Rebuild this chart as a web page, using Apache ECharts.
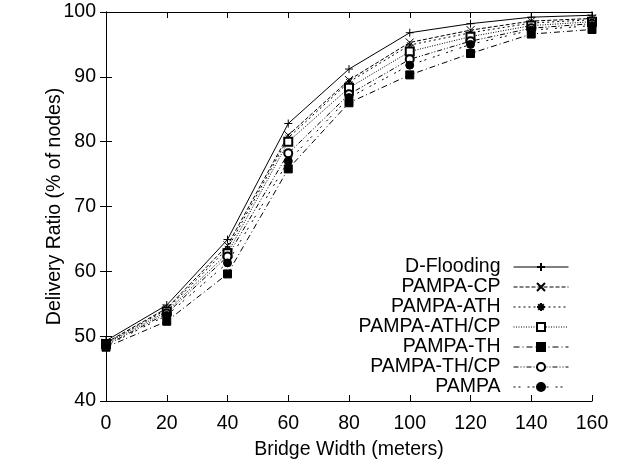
<!DOCTYPE html>
<html>
<head>
<meta charset="utf-8">
<script src="https://cdn.jsdelivr.net/npm/echarts@6/dist/echarts.min.js"></script>
<style>html,body{margin:0;padding:0;background:#fff;}#c{width:624px;height:465px;}</style>
</head>
<body>
<div id="c"></div>
<script>
const bridgeWidths = [0, 20, 40, 60, 80, 100, 120, 140, 160];
const seriesNames = ['D-Flooding', 'PAMPA-CP', 'PAMPA-ATH', 'PAMPA-ATH/CP', 'PAMPA-TH', 'PAMPA-TH/CP', 'PAMPA'];
const dFlooding  = [49.3, 54.8, 64.9, 82.8, 91.2, 96.8, 98.2, 99.2, 99.5];
const pampaCP    = [49.0, 54.3, 64.0, 81.0, 89.5, 95.3, 97.2, 98.6, 99.0];
const pampaATH   = [48.9, 54.1, 63.5, 80.6, 89.2, 94.9, 96.8, 98.3, 98.8];
const pampaATHCP = [48.8, 53.8, 62.8, 80.0, 88.3, 93.9, 96.2, 97.9, 98.5];
const pampaTH    = [48.3, 52.3, 59.6, 75.8, 86.0, 90.3, 93.6, 96.6, 97.3];
const pampaTHCP  = [48.6, 53.5, 62.3, 78.2, 87.3, 92.7, 95.5, 97.5, 98.2];
const pampa      = [48.5, 53.2, 61.3, 77.0, 86.8, 91.8, 95.0, 97.2, 97.9];
const xTicks = { min: 0, max: 160, step: 20 };
const yTicks = { min: 40, max: 100, step: 10 };

const allValues = [dFlooding, pampaCP, pampaATH, pampaATHCP, pampaTH, pampaTHCP, pampa];
const styles = [
  { symbol: 'path://M0,5L10,5M5,0L5,10', dash: 'solid' },
  { symbol: 'path://M0,0L10,10M10,0L0,10', dash: [4, 2] },
  { symbol: 'path://M0,5L10,5M5,0L5,10M1.5,1.5L8.5,8.5M8.5,1.5L1.5,8.5', dash: [2, 3] },
  { symbol: 'emptyRect', dash: [1, 1.5] },
  { symbol: 'rect', dash: [6, 3, 1, 3] },
  { symbol: 'emptyCircle', dash: [5, 2, 1, 2, 1, 2] },
  { symbol: 'circle', dash: [2, 3, 2, 7] }
];
const FONT = 'Liberation Sans, Arial, Helvetica, sans-serif';

const series = seriesNames.map((name, i) => ({
  name: name,
  type: 'line',
  data: bridgeWidths.map((x, j) => [x, allValues[i][j]]),
  symbol: styles[i].symbol,
  symbolSize: 8,
  showAllSymbol: true,
  lineStyle: { color: '#000', width: 1, type: styles[i].dash },
  itemStyle: { color: '#000', borderColor: '#000', borderWidth: 1 },
  emphasis: { disabled: true },
  z: 2 + i
}));

const axisCommon = {
  type: 'value',
  axisLine: { show: true, lineStyle: { color: '#000', width: 1 } },
  axisTick: { show: true, inside: true, length: 6, lineStyle: { color: '#000' } },
  splitLine: { show: false }
};

const chart = echarts.init(document.getElementById('c'), null, { renderer: 'canvas' });
chart.setOption({
  animation: false,
  backgroundColor: '#fff',
  grid: { left: 106, right: 32, top: 12, bottom: 64 },
  legend: {
    orient: 'vertical',
    align: 'right',
    right: 50,
    top: 252,
    itemWidth: 55,
    itemHeight: 10,
    itemGap: 0,
    data: seriesNames,
    lineStyle: { width: 1 },
    textStyle: { fontSize: 19.5, fontFamily: FONT, color: '#000', padding: [0, 8, 0, 0] },
    selectedMode: false
  },
  xAxis: [
    Object.assign({}, axisCommon, {
      position: 'bottom', min: xTicks.min, max: xTicks.max, interval: xTicks.step,
      name: 'Bridge Width (meters)', nameLocation: 'middle', nameGap: 39, nameMoveOverlap: false,
      nameTextStyle: { fontSize: 19.5, fontFamily: FONT, color: '#000' },
      axisLabel: { fontSize: 19.5, fontFamily: FONT, color: '#000', margin: 13 }
    }),
    Object.assign({}, axisCommon, {
      position: 'top', min: xTicks.min, max: xTicks.max, interval: xTicks.step,
      axisLabel: { show: false }
    })
  ],
  yAxis: [
    Object.assign({}, axisCommon, {
      position: 'left', min: yTicks.min, max: yTicks.max, interval: yTicks.step,
      name: 'Delivery Ratio (% of nodes)', nameLocation: 'middle', nameGap: 41, nameMoveOverlap: false,
      nameTextStyle: { fontSize: 19.5, fontFamily: FONT, color: '#000' },
      axisLabel: { fontSize: 19.5, fontFamily: FONT, color: '#000', margin: 10 }
    }),
    Object.assign({}, axisCommon, {
      position: 'right', min: yTicks.min, max: yTicks.max, interval: yTicks.step,
      axisLabel: { show: false }
    })
  ],
  series: series
});
</script>
</body>
</html>
